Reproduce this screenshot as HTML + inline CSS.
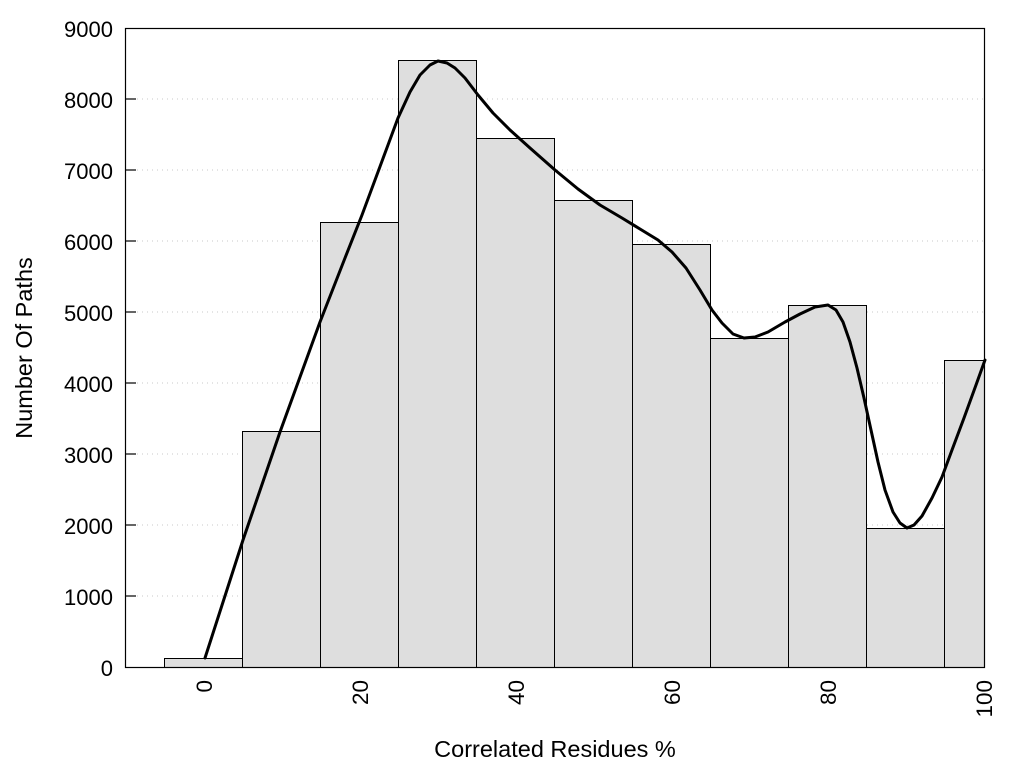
<!DOCTYPE html>
<html><head><meta charset="utf-8"><style>
html,body{margin:0;padding:0;background:#fff;}
svg{display:block;font-family:"Liberation Sans",Arial,sans-serif;}
</style></head><body>
<svg width="1024" height="768" viewBox="0 0 1024 768">
<g stroke="#c8c8c8" stroke-width="1" stroke-dasharray="1,4">
<line x1="137" y1="99" x2="985" y2="99"/>
<line x1="137" y1="170" x2="985" y2="170"/>
<line x1="137" y1="241" x2="985" y2="241"/>
<line x1="137" y1="312" x2="985" y2="312"/>
<line x1="137" y1="383" x2="985" y2="383"/>
<line x1="137" y1="454" x2="985" y2="454"/>
<line x1="137" y1="525" x2="985" y2="525"/>
<line x1="137" y1="596" x2="985" y2="596"/>
</g>
<g fill="#dedede" stroke="#000" stroke-width="1">
<rect x="164.5" y="658.5" width="78" height="9"/>
<rect x="242.5" y="431.5" width="78" height="236"/>
<rect x="320.5" y="222.5" width="78" height="445"/>
<rect x="398.5" y="60.5" width="78" height="607"/>
<rect x="476.5" y="138.5" width="78" height="529"/>
<rect x="554.5" y="200.5" width="78" height="467"/>
<rect x="632.5" y="244.5" width="78" height="423"/>
<rect x="710.5" y="338.5" width="78" height="329"/>
<rect x="788.5" y="305.5" width="78" height="362"/>
<rect x="866.5" y="528.5" width="78" height="139"/>
<rect x="944.5" y="360.5" width="40" height="307"/>
</g>
<rect x="125.5" y="28.5" width="859" height="639" fill="none" stroke="#000" stroke-width="1.2"/>
<g stroke="#000" stroke-width="1.2">
<line x1="125" y1="99" x2="136" y2="99"/><line x1="125" y1="170" x2="136" y2="170"/>
<line x1="125" y1="241" x2="136" y2="241"/><line x1="125" y1="312" x2="136" y2="312"/>
<line x1="125" y1="383" x2="136" y2="383"/><line x1="125" y1="454" x2="136" y2="454"/>
<line x1="125" y1="525" x2="136" y2="525"/><line x1="125" y1="596" x2="136" y2="596"/>
</g>
<polyline fill="none" stroke="#000" stroke-width="3" stroke-linejoin="round" stroke-linecap="round"
points="205,658 243,540 280,432 320,322 345,258 362,215 375,180 388,145 398,118 410,92 420,75 430,65 438,61 447,63 455,68 465,78 478,95 493,113 510,130 530,148 555,170 578,189 600,205 622,218 640,229 658,240 672,252 686,268 700,290 712,310 722,323 733,334 744,338 755,337 768,332 785,322 800,314 815,307 828,305 836,310 843,322 850,342 857,368 864,398 871,430 878,462 885,490 893,512 900,523 907,528 914,525 922,516 932,498 942,477 952,450 964,418 976,385 985,360"/>
<g font-size="22" fill="#000" text-anchor="end">
<text x="113" y="676">0</text>
<text x="113" y="605">1000</text>
<text x="113" y="534">2000</text>
<text x="113" y="463">3000</text>
<text x="113" y="392">4000</text>
<text x="113" y="321">5000</text>
<text x="113" y="250">6000</text>
<text x="113" y="179">7000</text>
<text x="113" y="108">8000</text>
<text x="113" y="37">9000</text>
</g>
<g font-size="22.5" fill="#000" text-anchor="end">
<text transform="translate(212,680) rotate(-90)">0</text>
<text transform="translate(368,680) rotate(-90)">20</text>
<text transform="translate(524,680) rotate(-90)">40</text>
<text transform="translate(680,680) rotate(-90)">60</text>
<text transform="translate(836,680) rotate(-90)">80</text>
<text transform="translate(992,680) rotate(-90)">100</text>
</g>
<text x="555" y="757" font-size="23.5" text-anchor="middle">Correlated Residues %</text>
<text transform="translate(32,348) rotate(-90)" font-size="23.5" text-anchor="middle">Number Of Paths</text>
</svg>
</body></html>
